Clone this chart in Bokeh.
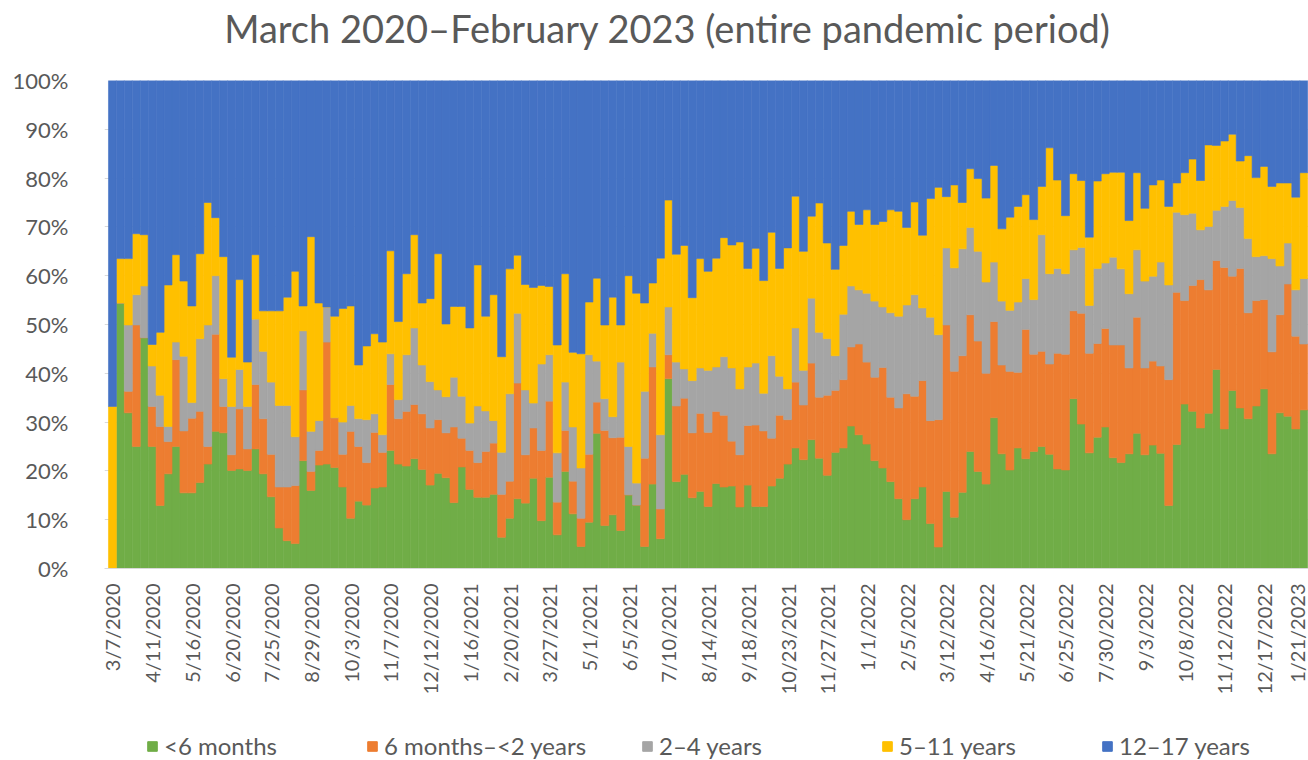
import pandas as pd
from bokeh.plotting import figure
from bokeh.models import Range1d, FixedTicker, Legend, LegendItem, ColumnDataSource, Label
from bokeh.layouts import column
from bokeh.embed import file_html
from bokeh.resources import INLINE
import math

# Shares (%) per week
lt6 = [0, 54.4, 31.9, 25.0, 47.3, 25.0, 12.9, 19.4, 25.0, 15.5, 15.5, 17.6, 21.4, 28.1, 27.8, 20.1, 20.4, 20.1, 24.5, 19.4,
       14.7, 8.3, 5.7, 5.1, 22.1, 16.0, 21.2, 21.4, 20.7, 16.7, 10.3, 13.8, 13.0, 16.5, 16.7, 24.2, 21.4, 21.0, 22.5, 20.3,
       17.1, 19.5, 18.6, 13.5, 20.8, 16.2, 14.6, 14.6, 15.2, 6.4, 10.3, 14.3, 13.4, 18.5, 9.8, 18.7, 6.9, 19.9, 11.2, 4.5,
       9.5, 27.7, 8.8, 11.0, 7.8, 15.1, 13.0, 4.5, 17.3, 6.1, 38.9, 17.8, 19.3, 14.5, 15.8, 12.7, 17.4, 16.7, 16.9, 12.6,
       17.1, 12.7, 12.7, 16.9, 18.5, 21.4, 24.7, 22.3, 26.4, 22.6, 19.1, 23.8, 24.7, 29.2, 27.4, 25.5, 22.1, 20.6, 17.8, 14.3,
       10.0, 14.3, 16.7, 9.2, 4.4, 15.8, 10.5, 15.6, 24.0, 19.9, 17.3, 30.9, 23.5, 20.2, 24.7, 22.5, 24.0, 25.0, 23.4, 20.4,
       20.2, 34.8, 29.6, 23.7, 26.9, 29.0, 22.7, 21.7, 23.5, 27.7, 23.3, 25.3, 23.6, 12.9, 25.4, 33.7, 32.2, 28.8, 31.8, 40.8,
       28.6, 36.5, 32.9, 30.7, 33.3, 36.8, 23.5, 31.9, 31.2, 28.6, 32.5]
m6_2y = [0, 0, 4.4, 24.9, 0, 8.2, 16.2, 6.6, 17.8, 12.7, 15.3, 14.6, 3.6, 19.9, 5.4, 3.2, 12.3, 4.4, 13.2, 11.3,
         8.7, 8.4, 11.0, 11.9, 14.5, 3.9, 3.0, 25.0, 10.2, 6.7, 17.8, 11.2, 8.7, 11.4, 7.1, 13.5, 9.3, 11.2, 11.1, 11.4,
         11.7, 11.0, 9.2, 15.5, 5.9, 8.0, 7.1, 9.4, 10.5, 8.8, 7.6, 23.7, 9.9, 10.3, 14.4, 15.6, 6.7, 8.4, 6.7, 5.8,
         13.9, 6.4, 19.5, 15.8, 19.1, 0, 0, 18.1, 24.0, 6.1, 4.9, 15.5, 15.6, 13.3, 16.0, 15.2, 14.8, 14.7, 9.2, 10.7,
         12.2, 16.7, 15.5, 9.8, 12.9, 9.1, 13.5, 11.2, 15.7, 12.5, 16.4, 12.7, 14.0, 16.2, 18.6, 16.8, 17.1, 20.6, 17.3, 18.6,
         25.8, 21.0, 21.8, 21.1, 26.1, 34.1, 29.9, 28.0, 28.0, 26.7, 22.7, 19.7, 18.2, 20.2, 15.5, 26.5, 19.9, 19.5, 18.5, 23.7,
         23.7, 18.0, 22.7, 20.4, 19.2, 20.2, 23.1, 24.1, 17.6, 23.8, 17.8, 17.2, 17.9, 25.8, 31.2, 21.2, 25.8, 30.4, 25.3, 22.3,
         33.1, 23.4, 28.6, 21.7, 21.6, 18.3, 20.9, 20.1, 27.1, 19.0, 13.5]
y2_4 = [0, 0, 13.6, 6.2, 10.6, 8.3, 6.4, 3.1, 3.6, 15.3, 3.2, 14.9, 24.9, 12.0, 5.7, 9.9, 8.1, 8.7, 13.4, 13.8,
        14.8, 16.7, 16.7, 10.0, 12.1, 8.2, 6.1, 7.2, 0, 6.6, 5.3, 5.7, 8.8, 3.8, 3.6, 6.3, 3.9, 11.6, 15.7, 10.0,
        9.5, 6.1, 7.4, 10.2, 8.6, 5.6, 11.6, 8.3, 4.6, 8.6, 17.9, 14.3, 13.3, 5.1, 17.7, 9.5, 10.1, 9.9, 11.1, 10.3,
        20.4, 8.4, 6.5, 4.3, 15.4, 9.9, 4.5, 13.7, 6.9, 15.2, 9.8, 9.0, 6.0, 10.7, 9.3, 12.7, 9.1, 12.0, 15.0, 13.5,
        12.0, 12.7, 7.7, 16.9, 8.0, 6.3, 11.1, 7.1, 13.3, 13.3, 11.6, 7.1, 13.4, 12.5, 11.1, 14.1, 15.6, 12.4, 17.3, 18.8,
        18.2, 20.8, 14.9, 21.2, 17.4, 15.8, 21.2, 21.9, 17.9, 18.4, 18.7, 12.2, 13.1, 12.5, 14.4, 10.4, 11.2, 23.9, 18.5, 17.4,
        16.5, 12.5, 13.5, 9.8, 15.4, 13.4, 18.0, 15.6, 15.2, 13.8, 17.8, 17.4, 21.3, 19.4, 16.4, 17.6, 14.8, 10.2, 13.0, 10.3,
        12.5, 15.5, 12.5, 15.2, 9.0, 9.0, 19.1, 10.0, 8.4, 9.5, 13.4]
y5_11 = [33.2, 9.1, 13.6, 12.5, 10.5, 4.4, 12.9, 29.0, 17.9, 15.4, 19.8, 17.4, 25.1, 11.9, 25.0, 10.1, 18.4, 9.1, 13.2, 8.3,
         14.6, 19.4, 22.2, 33.9, 5.1, 39.9, 24.1, 0, 20.8, 23.3, 20.4, 11.0, 15.1, 16.4, 19.0, 21.1, 16.0, 16.6, 19.1, 12.7,
         17.0, 27.9, 14.9, 14.5, 18.4, 19.5, 28.9, 19.4, 25.8, 19.6, 25.6, 11.9, 21.6, 23.7, 16.1, 14.0, 22.1, 22.2, 15.3, 23.4,
         10.8, 17.0, 15.1, 24.5, 7.6, 35.0, 38.9, 18.1, 10.3, 36.2, 21.9, 22.1, 25.3, 17.0, 22.4, 20.3, 22.3, 24.4, 25.2, 30.1,
         20.2, 23.5, 23.1, 25.3, 22.1, 28.9, 27.0, 24.4, 16.8, 26.5, 19.6, 17.7, 14.1, 15.3, 13.4, 17.1, 15.7, 17.5, 21.1, 21.5,
         15.9, 19.0, 14.9, 24.3, 30.2, 10.5, 17.0, 9.5, 12.0, 14.9, 17.2, 19.8, 14.8, 19.1, 19.6, 17.2, 16.4, 9.9, 25.8, 18.1,
         11.9, 15.6, 13.7, 14.0, 17.9, 18.3, 17.4, 19.8, 15.0, 15.8, 14.9, 18.7, 16.8, 16.1, 6.0, 8.6, 11.1, 10.1, 16.7, 13.3,
         13.4, 13.6, 9.5, 17.0, 16.2, 18.3, 14.8, 17.0, 12.3, 19.0, 21.7]
y12_17 = [66.8, 36.5, 36.5, 31.4, 31.6, 54.1, 51.6, 41.9, 35.7, 41.1, 46.2, 35.5, 25.0, 28.1, 36.1, 56.7, 40.8, 57.7, 35.7, 47.2,
          47.2, 47.2, 44.4, 39.1, 46.2, 32.0, 45.6, 46.4, 48.3, 46.7, 46.2, 58.3, 54.4, 51.9, 53.6, 34.9, 49.4, 39.6, 31.6, 45.6,
          44.7, 35.5, 49.9, 46.3, 46.3, 50.7, 37.8, 48.3, 43.9, 56.6, 38.6, 35.8, 41.8, 42.4, 42.0, 42.2, 54.2, 39.6, 55.7, 56.0,
          45.4, 40.5, 50.1, 44.4, 50.1, 40.0, 43.6, 45.6, 41.5, 36.4, 24.5, 35.6, 33.8, 44.5, 36.5, 39.1, 36.4, 32.2, 33.7, 33.1,
          38.5, 34.4, 41.0, 31.1, 38.5, 34.3, 23.7, 35.0, 27.8, 25.1, 33.3, 38.7, 33.8, 26.8, 29.5, 26.5, 29.5, 28.9, 26.5, 26.8,
          30.1, 24.9, 31.7, 24.2, 21.9, 23.8, 21.4, 25.0, 18.1, 20.1, 24.1, 17.4, 30.4, 28.0, 25.8, 23.4, 28.5, 21.7, 13.8, 20.4,
          27.7, 19.1, 20.5, 32.1, 20.6, 19.1, 18.8, 18.8, 28.7, 18.9, 26.2, 21.4, 20.4, 25.8, 21.0, 18.9, 16.1, 20.5, 13.2, 13.3,
          12.4, 11.0, 16.5, 15.4, 19.9, 17.6, 21.7, 21.0, 21.0, 23.9, 18.9]

series_names = ["<6 months", "6 months\u2013<2 years", "2\u20134 years", "5\u201311 years", "12\u201317 years"]
series_colors = ["#70AD47", "#ED7D31", "#A5A5A5", "#FFC000", "#4472C4"]
y_ticks = [0, 10, 20, 30, 40, 50, 60, 70, 80, 90, 100]
y_tick_labels = [f"{t}%" for t in y_ticks]
chart_title = "March 2020\u2013February 2023 (entire pandemic period)"

N = len(lt6)
weeks = pd.date_range("2020-03-07", periods=N, freq="7D")
week_labels = [f"{d.month}/{d.day}/{d.year}" for d in weeks]
label_idx = list(range(0, N, 5))

source = ColumnDataSource(dict(x=list(range(N)), a=lt6, b=m6_2y, c=y2_4, d=y5_11, e=y12_17))

FONT = "Lato"
TXT = "#595959"
FRAME_LEFT = 104


def strip(height):
    f = figure(width=1308, height=height, output_backend="svg", toolbar_location=None,
               x_range=Range1d(FRAME_LEFT, 1308), y_range=Range1d(0, height),
               min_border_left=0, min_border_right=0, min_border_top=0, min_border_bottom=0)
    f.axis.visible = False
    f.grid.visible = False
    f.outline_line_color = None
    f.background_fill_color = "white"
    f.border_fill_color = "white"
    return f


# Title strip
tf = strip(60)
tf.add_layout(Label(x=667, y=33, text=chart_title, text_align="center", text_baseline="middle",
                    text_font=FONT, text_font_size="38px", text_color=TXT))

# Main chart
p = figure(width=1308, height=660, output_backend="svg", toolbar_location=None,
           x_range=Range1d(-1.0, N - 0.4), y_range=Range1d(0, 100),
           min_border_left=FRAME_LEFT, min_border_right=0, min_border_top=20, min_border_bottom=152)
p.outline_line_color = None
p.background_fill_color = "white"
p.border_fill_color = "white"

rs = p.vbar_stack(["a", "b", "c", "d", "e"], x="x", width=1.0, source=source,
                  fill_color=series_colors, line_color=series_colors, line_width=0.6)

p.ygrid.grid_line_color = "#D9D9D9"
p.ygrid.ticker = FixedTicker(ticks=y_ticks)
p.xgrid.grid_line_color = None

p.yaxis.ticker = FixedTicker(ticks=y_ticks)
p.yaxis.major_label_overrides = {t: l for t, l in zip(y_ticks, y_tick_labels)}
p.yaxis.axis_line_color = None
p.yaxis.major_tick_line_color = None
p.yaxis.minor_tick_line_color = None
p.yaxis.major_tick_in = 0
p.yaxis.major_tick_out = 0
p.yaxis.major_label_standoff = 36
p.yaxis.major_label_text_font = FONT
p.yaxis.major_label_text_font_size = "22px"
p.yaxis.major_label_text_color = TXT

p.xaxis.ticker = FixedTicker(ticks=label_idx)
p.xaxis.major_label_overrides = {i: week_labels[i] for i in label_idx}
p.xaxis.major_label_orientation = math.pi / 2
p.xaxis.axis_line_color = "#D9D9D9"
p.xaxis.major_tick_line_color = None
p.xaxis.minor_tick_line_color = None
p.xaxis.major_tick_in = 0
p.xaxis.major_tick_out = 0
p.xaxis.major_label_standoff = 15
p.xaxis.major_label_text_font = FONT
p.xaxis.major_label_text_font_size = "20px"
p.xaxis.major_label_text_color = TXT

# Legend strip
lg = strip(40)
leg_x = [146, 366, 641, 881, 1101]
for name, col, lx in zip(series_names, series_colors, leg_x):
    dummy = lg.vbar(x=[700], top=[-10], bottom=[-20], width=1, fill_color=col, line_color=col)
    leg = Legend(items=[LegendItem(label=name, renderers=[dummy])], location=(lx - FRAME_LEFT, 0),
                 orientation="horizontal", margin=0, padding=0, border_line_color=None,
                 background_fill_alpha=0, glyph_width=12, glyph_height=12, label_standoff=6,
                 label_height=20, label_text_font=FONT, label_text_font_size="24px",
                 label_text_color=TXT)
    lg.add_layout(leg)

layout = column(tf, p, lg, spacing=0)
open("out.html", "w").write(file_html(layout, INLINE))
